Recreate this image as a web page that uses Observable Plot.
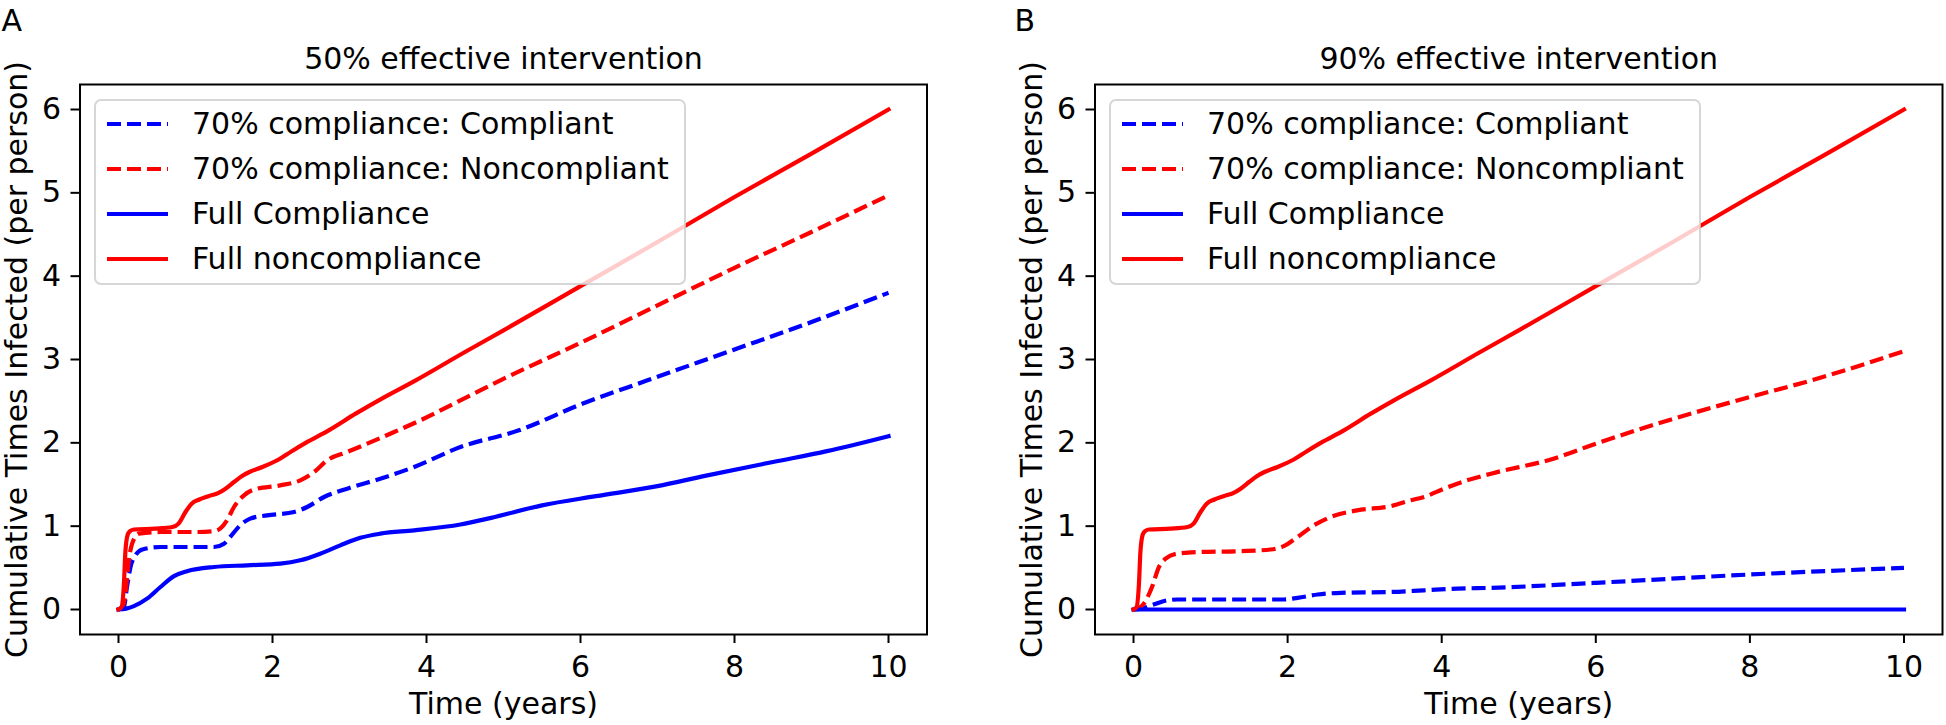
<!DOCTYPE html>
<html><head><meta charset="utf-8">
<script src="https://cdn.jsdelivr.net/npm/d3@7"></script>
<script src="https://cdn.jsdelivr.net/npm/@observablehq/plot@0.6"></script>
<style>
html,body{margin:0;padding:0;background:#fff;}
#wrap{position:relative;width:1946px;height:725px;overflow:hidden;background:#fff;}
.panel{position:absolute;top:0;}
</style>
</head><body><div id="wrap"></div>
<script>
// ---- labels ----
const seriesNames = ["70% compliance: Compliant", "70% compliance: Noncompliant", "Full Compliance", "Full noncompliance"];
const seriesColors = ["#0000ff", "#ff0000", "#0000ff", "#ff0000"];
const seriesDashed = [true, true, false, false];
const panelLetters = ["A", "B"];
const panelTitles = ["50% effective intervention", "90% effective intervention"];
const xTicks = [0, 2, 4, 6, 8, 10];
const yTicks = [0, 1, 2, 3, 4, 5, 6];
const xLabel = "Time (years)";
const yLabel = "Cumulative Times Infected (per person)";

// ---- Full noncompliance (same in both panels) ----
const fullNonT = [0, 0.04, 0.07, 0.09, 0.12, 0.15, 0.2, 0.48, 0.7, 0.78, 0.87, 0.95, 1.05, 1.17, 1.3, 1.39, 1.5, 1.6, 1.7, 1.87, 2.08, 2.25, 2.43, 2.73, 3.08, 3.38, 3.86, 4.5, 5, 6, 7, 8, 9, 10];
const fullNonV = [0, 0.03, 0.3, 0.7, 0.9, 0.94, 0.96, 0.97, 0.99, 1.03, 1.17, 1.27, 1.32, 1.36, 1.4, 1.45, 1.53, 1.6, 1.65, 1.71, 1.8, 1.9, 2.0, 2.15, 2.35, 2.51, 2.75, 3.09, 3.35, 3.88, 4.41, 4.95, 5.47, 6.0];

// ---- Panel A: 50% effective ----
const aCompT = [0, 0.07, 0.11, 0.156, 0.22, 0.31, 0.545, 1.24, 1.37, 1.45, 1.58, 1.71, 1.93, 2.28, 2.45, 2.67, 2.97, 3.4, 3.84, 4.44, 5.2, 6, 6.87, 8, 9, 10];
const aCompV = [0, 0.03, 0.27, 0.51, 0.65, 0.72, 0.75, 0.75, 0.79, 0.87, 1.01, 1.09, 1.13, 1.17, 1.23, 1.35, 1.45, 1.57, 1.71, 1.95, 2.15, 2.46, 2.75, 3.12, 3.45, 3.8];
const aNonT = [0, 0.06, 0.09, 0.134, 0.177, 0.264, 0.545, 1.0, 1.24, 1.32, 1.41, 1.5, 1.63, 1.76, 2.1, 2.36, 2.54, 2.71, 2.97, 3.23, 3.58, 3.92, 4.44, 4.96, 6, 7, 8, 9, 10];
const aNonV = [0, 0.05, 0.19, 0.59, 0.79, 0.91, 0.93, 0.93, 0.94, 0.97, 1.07, 1.23, 1.37, 1.44, 1.49, 1.55, 1.65, 1.79, 1.89, 1.99, 2.13, 2.27, 2.51, 2.75, 3.2, 3.65, 4.1, 4.53, 4.97];
const aFullCompT = [0, 0.1, 0.2, 0.37, 0.545, 0.72, 0.89, 1.24, 1.67, 2.1, 2.36, 2.62, 2.88, 3.14, 3.4, 3.84, 4.44, 4.84, 5.5, 6.2, 7, 7.6, 8.5, 9.2, 10];
const aFullCompV = [0, 0.01, 0.04, 0.13, 0.27, 0.4, 0.46, 0.51, 0.53, 0.55, 0.59, 0.67, 0.77, 0.86, 0.91, 0.95, 1.02, 1.1, 1.25, 1.36, 1.48, 1.6, 1.77, 1.9, 2.08];

// ---- Panel B: 90% effective ----
const bCompT = [0, 0.1, 0.26, 0.44, 0.57, 1.17, 1.95, 2.13, 2.39, 2.69, 3.34, 3.77, 4.2, 4.64, 6, 8, 10];
const bCompV = [0, 0.01, 0.06, 0.11, 0.12, 0.12, 0.12, 0.14, 0.18, 0.2, 0.21, 0.23, 0.25, 0.26, 0.32, 0.42, 0.5];
const bNonT = [0, 0.07, 0.134, 0.24, 0.33, 0.416, 0.567, 0.87, 1.39, 1.78, 1.95, 2.13, 2.34, 2.56, 2.9, 3.34, 3.6, 3.77, 4.03, 4.33, 4.64, 5.45, 6, 6.8, 8, 8.8, 10];
const bNonV = [0, 0.02, 0.07, 0.27, 0.51, 0.61, 0.67, 0.69, 0.7, 0.72, 0.76, 0.87, 1.01, 1.11, 1.19, 1.24, 1.31, 1.35, 1.45, 1.55, 1.63, 1.81, 1.99, 2.23, 2.55, 2.75, 3.1];
const bFullCompT = [0, 2, 4, 6, 8, 10];
const bFullCompV = [0, 0, 0, 0, 0, 0];

const panels = [
  {series: [[aCompT, aCompV], [aNonT, aNonV], [aFullCompT, aFullCompV], [fullNonT, fullNonV]],
   left: 0, marginLeft: 79.5, marginRight: 46.5, ylabelX: 26, letterX: 1},
  {series: [[bCompT, bCompV], [bNonT, bNonV], [bFullCompT, bFullCompV], [fullNonT, fullNonV]],
   left: 973, marginLeft: 121.5, marginRight: 4, ylabelX: 68, letterX: 41}
];

function seriesLine(tv, k) {
  const [T, V] = tv;
  const data = T.map((t, i) => ({t, v: V[i]}));
  return Plot.line(data, {
    x: "t", y: "v",
    stroke: seriesColors[k],
    strokeWidth: 4.2,
    strokeDasharray: seriesDashed[k] ? "14,6" : undefined,
    strokeLinecap: seriesDashed[k] ? "butt" : "square",
    curve: "monotone-x"
  });
}

function legendMark(index, scales, values, dims) {
  const g = d3.create("svg:g")
    .attr("font-family", "DejaVu Sans")
    .attr("font-size", 30)
    .attr("text-anchor", "start");
  const x0 = dims.marginLeft + 15.5, y0 = dims.marginTop + 16;
  g.append("rect")
    .attr("x", x0).attr("y", y0)
    .attr("width", 590).attr("height", 184)
    .attr("rx", 6).attr("ry", 6)
    .attr("fill", "white").attr("fill-opacity", 0.8)
    .attr("stroke", "#cccccc").attr("stroke-opacity", 0.8).attr("stroke-width", 2);
  seriesNames.forEach((name, k) => {
    const cy = y0 + 24 + k * 45;
    g.append("line")
      .attr("x1", x0 + 12).attr("x2", x0 + 73)
      .attr("y1", cy).attr("y2", cy)
      .attr("stroke", seriesColors[k])
      .attr("stroke-width", 4.2)
      .attr("stroke-dasharray", seriesDashed[k] ? "14,6" : null);
    g.append("text")
      .attr("x", x0 + 97).attr("y", cy).attr("dy", "0.32em")
      .attr("text-anchor", "start")
      .attr("fill", "black")
      .text(name);
  });
  return g.node();
}

const wrap = document.getElementById("wrap");
panels.forEach((p, i) => {
  const chart = Plot.plot({
    width: 973, height: 725,
    marginLeft: p.marginLeft, marginRight: p.marginRight,
    marginTop: 84, marginBottom: 91,
    x: {domain: [-0.5, 10.5]},
    y: {domain: [-0.3, 6.3]},
    style: {fontFamily: "DejaVu Sans", fontSize: "30px", color: "black", background: "white", overflow: "visible"},
    marks: [
      ...p.series.map((tv, k) => seriesLine(tv, k)),
      Plot.frame({stroke: "black", strokeWidth: 2}),
      Plot.axisX({ticks: xTicks, tickFormat: d => String(d), tickSize: 9, tickPadding: 12, strokeWidth: 2, fontSize: 30, label: null}),
      Plot.axisY({ticks: yTicks, tickFormat: d => String(d), tickSize: 9, tickPadding: 10, strokeWidth: 2, fontSize: 30, label: null}),
      Plot.text([panelTitles[i]], {text: d => d, frameAnchor: "top", dy: -16, lineAnchor: "bottom", textAnchor: "middle", fontSize: 30}),
      Plot.text([xLabel], {text: d => d, frameAnchor: "bottom", dy: 79, lineAnchor: "bottom", textAnchor: "middle", fontSize: 30}),
      Plot.text([yLabel], {text: d => d, frameAnchor: "left", dx: p.ylabelX - p.marginLeft, rotate: -90, lineAnchor: "bottom", textAnchor: "middle", fontSize: 30}),
      Plot.text([panelLetters[i]], {text: d => d, frameAnchor: "top-left", dx: p.letterX - p.marginLeft, dy: -54, textAnchor: "start", lineAnchor: "bottom", fontSize: 30}),
      legendMark
    ]
  });
  const div = document.createElement("div");
  div.className = "panel";
  div.style.left = p.left + "px";
  div.appendChild(chart);
  wrap.appendChild(div);
});
</script>
</body></html>
